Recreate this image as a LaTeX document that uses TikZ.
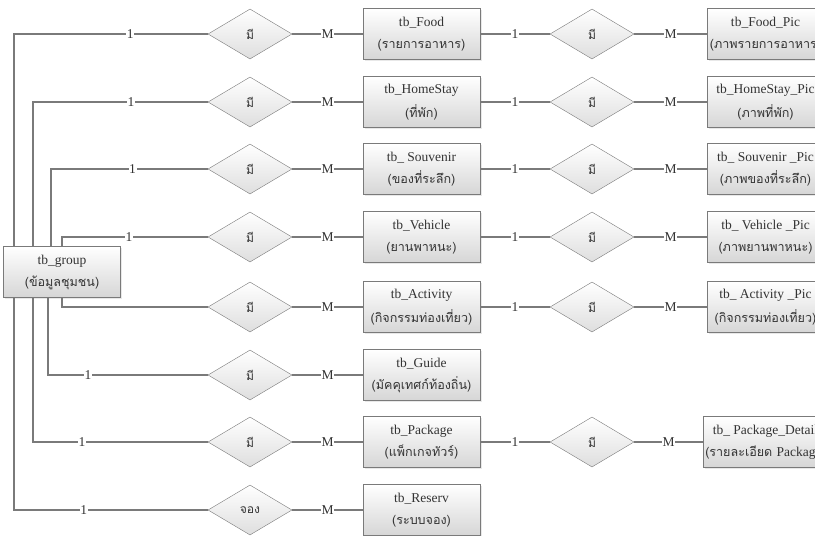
\documentclass[tikz,border=0pt]{standalone}
\usepackage{fontspec}
\setmainfont{Liberation Serif}
\newfontfamily\thaifont[Script=Thai,Scale=0.93]{Loma}
\usetikzlibrary{shapes.geometric,shadows}
\definecolor{linegray}{HTML}{7A7A7A}
\definecolor{fillgray}{HTML}{D6D6D6}
\definecolor{darktext}{HTML}{333333}

\tikzset{
  table/.style={draw=linegray, top color=white, bottom color=fillgray,
    minimum width=117pt, minimum height=51pt, inner sep=2pt, align=center,
    text=darktext, font=\fontsize{13.5}{15}\selectfont,
    drop shadow={opacity=0.18, shadow xshift=1.5pt, shadow yshift=-1.5pt}},
  rel/.style={diamond, draw=linegray, top color=white, bottom color=fillgray!80,
    minimum width=84pt, minimum height=50pt, inner sep=0pt, text=darktext,
    font=\thaifont\fontsize{13}{14}\selectfont},
  link/.style={draw=linegray, line width=1.1pt},
  card/.style={fill=white, inner sep=0.6pt, text=darktext, font=\fontsize{13.5}{14}\selectfont}
}

\begin{document}
\begin{tikzpicture}[x=1pt, y=-1pt]
\useasboundingbox (0,0) rectangle (815,536);
\clip (0,0) rectangle (815,536);
\fill[white] (0,0) rectangle (815,536);

\node[table] (group) at (62,272) {tb\_group\\[7pt]\thaifont (ข้อมูลชุมชน)};

\node[rel] (hasFood) at (250,34) {มี};
\node[rel] (hasStay) at (250,102) {มี};
\node[rel] (hasSouv) at (250,169) {มี};
\node[rel] (hasVeh) at (250,237) {มี};
\node[rel] (hasAct) at (250,307) {มี};
\node[rel] (hasGuide) at (250,375) {มี};
\node[rel] (hasPack) at (250,442) {มี};
\node[rel] (booking) at (250,510) {จอง};

\node[table] (food) at (421.5,34) {tb\_Food\\[7pt]\thaifont (รายการอาหาร)};
\node[table] (stay) at (421.5,102) {tb\_HomeStay\\[7pt]\thaifont (ที่พัก)};
\node[table] (souv) at (421.5,169) {tb\_ Souvenir\\[7pt]\thaifont (ของที่ระลึก)};
\node[table] (veh) at (421.5,237) {tb\_Vehicle\\[7pt]\thaifont (ยานพาหนะ)};
\node[table] (act) at (421.5,307) {tb\_Activity\\[7pt]\thaifont (กิจกรรมท่องเที่ยว)};
\node[table] (guide) at (421.5,375) {tb\_Guide\\[7pt]\thaifont (มัคคุเทศก์ท้องถิ่น)};
\node[table] (pack) at (421.5,442) {tb\_Package\\[7pt]\thaifont (แพ็กเกจทัวร์)};
\node[table] (reserv) at (421.5,510) {tb\_Reserv\\[7pt]\thaifont (ระบบจอง)};

\node[rel] (hasFoodPic) at (592,34) {มี};
\node[rel] (hasStayPic) at (592,102) {มี};
\node[rel] (hasSouvPic) at (592,169) {มี};
\node[rel] (hasVehPic) at (592,237) {มี};
\node[rel] (hasActPic) at (592,307) {มี};
\node[rel] (hasDetail) at (592,442) {มี};

\node[table] (foodpic) at (765.5,34) {tb\_Food\_Pic\\[7pt]\thaifont (ภาพรายการอาหาร)};
\node[table] (staypic) at (765.5,102) {tb\_HomeStay\_Pic\\[7pt]\thaifont (ภาพที่พัก)};
\node[table] (souvpic) at (765.5,169) {tb\_ Souvenir \_Pic\\[7pt]\thaifont (ภาพของที่ระลึก)};
\node[table] (vehpic) at (765.5,237) {tb\_ Vehicle \_Pic\\[7pt]\thaifont (ภาพยานพาหนะ)};
\node[table] (actpic) at (765.5,307) {tb\_ Activity \_Pic\\[7pt]\thaifont (กิจกรรมท่องเที่ยว)};
\node[table] (detail) at (765.5,442) {tb\_ Package\_Detail\\[7pt]\thaifont (รายละเอียด {\rmfamily Package})};

\draw[link] ([xshift=-48pt]group.north) |- node[card, pos=0.8] {1} (hasFood);
\draw[link] ([xshift=-29pt]group.north) |- node[card, pos=0.78] {1} (hasStay);
\draw[link] ([xshift=-11pt]group.north) |- node[card, pos=0.76] {1} (hasSouv);
\draw[link] (group.north) |- node[card, pos=0.73] {1} (hasVeh);
\draw[link] (group.south) |- (hasAct);
\draw[link] ([xshift=-14pt]group.south) |- node[card, pos=0.625] {1} (hasGuide);
\draw[link] ([xshift=-29pt]group.south) |- node[card, pos=0.64] {1} (hasPack);
\draw[link] ([xshift=-48pt]group.south) |- node[card, pos=0.68] {1} (booking);

\draw[link] (hasFood) -- node[card] {M} (food);
\draw[link] (hasStay) -- node[card] {M} (stay);
\draw[link] (hasSouv) -- node[card] {M} (souv);
\draw[link] (hasVeh) -- node[card] {M} (veh);
\draw[link] (hasAct) -- node[card] {M} (act);
\draw[link] (hasGuide) -- node[card] {M} (guide);
\draw[link] (hasPack) -- node[card] {M} (pack);
\draw[link] (booking) -- node[card] {M} (reserv);

\draw[link] (food) -- node[card] {1} (hasFoodPic);
\draw[link] (stay) -- node[card] {1} (hasStayPic);
\draw[link] (souv) -- node[card] {1} (hasSouvPic);
\draw[link] (veh) -- node[card] {1} (hasVehPic);
\draw[link] (act) -- node[card] {1} (hasActPic);
\draw[link] (pack) -- node[card] {1} (hasDetail);

\draw[link] (hasFoodPic) -- node[card] {M} (foodpic);
\draw[link] (hasStayPic) -- node[card] {M} (staypic);
\draw[link] (hasSouvPic) -- node[card] {M} (souvpic);
\draw[link] (hasVehPic) -- node[card] {M} (vehpic);
\draw[link] (hasActPic) -- node[card] {M} (actpic);
\draw[link] (hasDetail) -- node[card] {M} (detail);
\end{tikzpicture}
\end{document}
